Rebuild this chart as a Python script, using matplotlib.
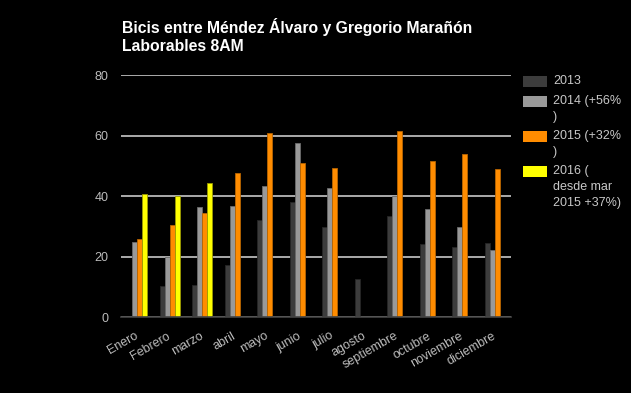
import numpy as np
import matplotlib
matplotlib.use('Agg')
import matplotlib.pyplot as plt
from matplotlib.patches import Rectangle

plt.rcParams['font.family'] = ['Liberation Sans', 'DejaVu Sans']

months = ['Enero', 'Febrero', 'marzo', 'abril', 'mayo', 'junio', 'julio',
          'agosto', 'septiembre', 'octubre', 'noviembre', 'diciembre']

v2013 = [0, 10.4, 10.7, 17.3, 32.2, 38.1, 29.9, 12.7, 33.5, 24.2, 23.3, 24.6]
v2014 = [24.9, 19.8, 36.5, 36.8, 43.4, 57.6, 42.8, 0, 40.1, 35.8, 29.9, 22.3]
v2015 = [25.9, 30.5, 34.5, 47.7, 60.9, 51.0, 49.4, 0, 61.6, 51.7, 54.0, 49.0]
v2016 = [40.8, 39.9, 44.4, 0, 0, 0, 0, 0, 0, 0, 0, 0]

labels = ['2013', '2014 (+56%\n)', '2015 (+32%\n)', '2016 (\ndesde mar\n2015 +37%)']
colors = ['#3c3c3c', '#999999', '#ff8c00', '#ffff00']
edges = ['#262626', '#6a6a6a', '#b86400', '#9a9a00']

fig = plt.figure(figsize=(6.31, 3.93), dpi=100, facecolor='black')
ax = fig.add_axes([121 / 631, 1 - 317 / 393, 390 / 631, 242 / 393])
ax.set_facecolor('black')

x = np.arange(len(months))
w = 0.154
series = [v2013, v2014, v2015, v2016]
for i, vals in enumerate(series):
    ax.bar(x + (i - 1.5) * w, vals, width=w, color=colors[i],
           edgecolor=edges[i], linewidth=0.6, zorder=3)

ax.set_xlim(-0.5, len(months) - 0.5)
ax.set_ylim(0, 80)
ax.set_yticks([0, 20, 40, 60, 80])
ax.yaxis.grid(True, color='#c8c8c8', linewidth=1.2, zorder=1)
ax.set_axisbelow(True)
for s in ['top', 'right', 'left']:
    ax.spines[s].set_visible(False)
ax.spines['bottom'].set_color('#444444')
ax.spines['bottom'].set_linewidth(1.2)
ax.spines['bottom'].set_zorder(4)

ax.tick_params(axis='both', length=0, colors='#bcbcbc', labelsize=9)
ax.tick_params(axis='y', pad=9)
ax.set_xticks(x)
ax.set_xticklabels(months, rotation=30, ha='right', va='center',
                   rotation_mode='anchor')
ax.tick_params(axis='x', pad=13)

fig.text(122 / 631, 1 - 36 / 393,
         'Bicis entre Méndez Álvaro y Gregorio Marañón\nLaborables 8AM',
         color='white', fontsize=11.3, fontweight='bold', va='center',
         ha='left', linespacing=1.3)

# legend drawn by hand so swatches line up with the first text line
y_lines = [81, 101, 136, 171]
for i, lab in enumerate(labels):
    yc = y_lines[i]
    fig.patches.append(Rectangle((523 / 631, 1 - (yc + 6) / 393), 24 / 631, 11 / 393,
                                 transform=fig.transFigure, facecolor=colors[i],
                                 edgecolor='none'))
    fig.text(553 / 631, 1 - (yc - 6) / 393, lab, color='#c8c8c8', fontsize=9,
             va='top', ha='left', linespacing=1.45)

fig.savefig('out.png', dpi=100, facecolor='black')
